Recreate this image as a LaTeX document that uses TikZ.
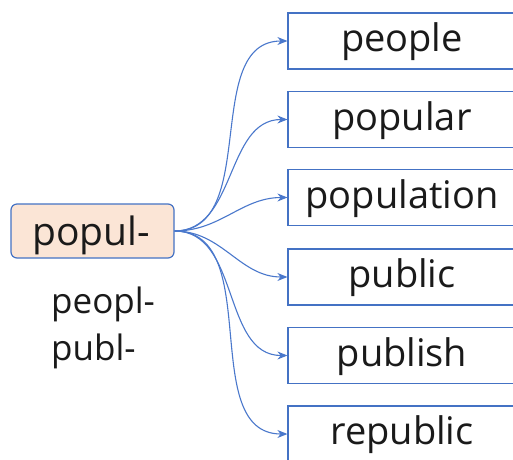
\documentclass[tikz,border=0pt]{standalone}
\usepackage{fontspec}
\setmainfont{Open Sans}
\usetikzlibrary{arrows.meta}
\definecolor{bblue}{HTML}{4472C4}
\definecolor{lblue}{HTML}{4A78CC}
\definecolor{peach}{HTML}{FBE5D6}
\definecolor{ink}{HTML}{1A1A1A}
\begin{document}
\begin{tikzpicture}[x=1pt,y=-1pt,
  wordbox/.style={draw=bblue, line width=1.2pt, fill=white, minimum width=228pt, minimum height=56pt, inner sep=0pt},
  rootbox/.style={draw=bblue, line width=1.2pt, fill=peach, rounded corners=6pt, minimum width=163pt, minimum height=54pt, inner sep=0pt},
  link/.style={draw=lblue, line width=1.1pt, -{Stealth[length=10pt,width=8pt]}, out=0, in=180},
  wordtxt/.style={font=\fontsize{38}{40}\selectfont, text=ink, anchor=base, inner sep=0pt},
  roottxt/.style={font=\fontsize{39}{41}\selectfont, text=ink, anchor=base, inner sep=0pt},
  vartxt/.style={font=\fontsize{35}{37}\selectfont, text=ink, anchor=base west, inner sep=0pt}
]
\path[use as bounding box] (0,0) rectangle (513,459);
\clip (0,0) rectangle (513,459);
\fill[white] (0,0) rectangle (513,459);

\node[rootbox] (root) at (92.5,231) {};
\node[roottxt] (roott) at (91,245) {popul-};
\node[vartxt] (v1) at (51,313) {peopl-};
\node[vartxt] (v2) at (51,360) {publ-};

\node[wordbox] (b1) at (402,41) {};
\node[wordbox] (b2) at (402,119.5) {};
\node[wordbox] (b3) at (402,197.5) {};
\node[wordbox] (b4) at (402,277) {};
\node[wordbox] (b5) at (402,355.5) {};
\node[wordbox] (b6) at (402,434) {};

\node[wordtxt] (t1) at (402,51.5) {people};
\node[wordtxt] (t2) at (402,130.5) {popular};
\node[wordtxt] (t3) at (402,208.5) {population};
\node[wordtxt] (t4) at (402,287.5) {public};
\node[wordtxt] (t5) at (402,366.5) {publish};
\node[wordtxt] (t6) at (402,444.5) {republic};

\foreach \i in {1,...,6}{
  \draw[link] (root.east) to (b\i.west);
}
\end{tikzpicture}
\end{document}
